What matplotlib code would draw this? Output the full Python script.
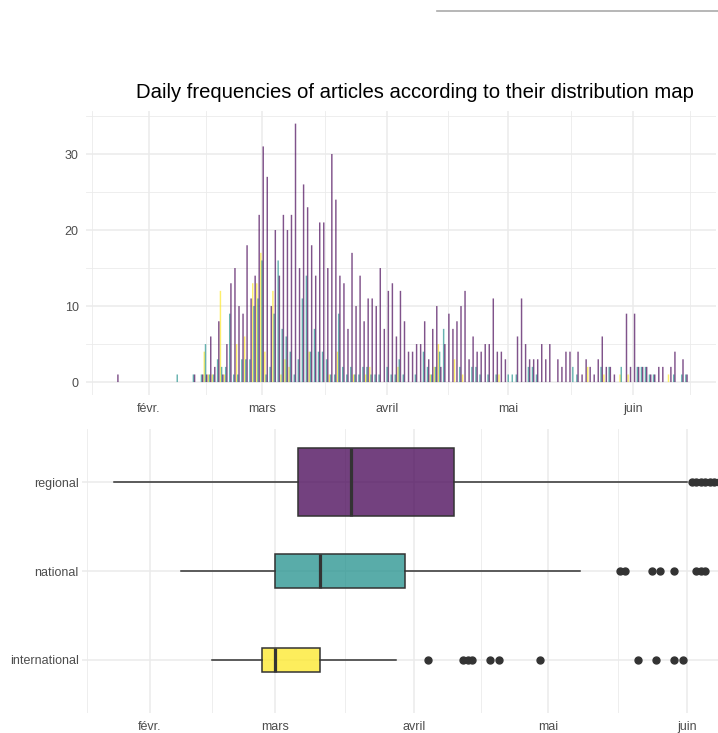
import numpy as np
import matplotlib
matplotlib.use("Agg")
import matplotlib.pyplot as plt
import matplotlib.dates as mdates
from matplotlib.colors import to_rgba
from matplotlib.lines import Line2D

plt.rcParams['font.family'] = ['Liberation Sans', 'DejaVu Sans']

# ---------------- data ----------------
first_day = "2021-01-24"   # daily counts from Jan 24 to Jun 14

regional = (
    [1, 0, 0, 0, 0, 0, 0, 0] +
    [0, 0, 0, 0, 0, 0, 0, 0, 0, 0, 0, 1, 0, 1, 1, 6, 2, 8, 1, 5, 13, 15, 10, 9, 18, 11, 14, 22] +
    [31, 27, 10, 20, 14, 22, 20, 22, 34, 15, 26, 23, 18, 14, 21, 21, 15, 30, 24, 14, 13, 7, 17, 10, 14, 8, 11, 11, 10, 15, 7] +
    [12, 13, 6, 12, 8, 4, 4, 5, 5, 8, 3, 7, 10, 2, 5, 9, 7, 8, 10, 12, 3, 6, 4, 4, 5, 5, 11, 4, 4, 3] +
    [0, 0, 6, 11, 5, 3, 3, 3, 5, 3, 5, 0, 3, 2, 4, 4, 0, 4, 1, 3, 2, 1, 3, 6, 2, 2, 1, 0, 0, 9, 2] +
    [9, 2, 2, 2, 1, 1, 2, 2, 0, 2, 4, 0, 3, 1]
)
national = (
    [0, 0, 0, 0, 0, 0, 0, 0] +
    [0, 0, 0, 0, 0, 0, 0, 1, 0, 0, 0, 1, 0, 1, 5, 1, 1, 3, 2, 2, 9, 1, 1, 3, 3, 3, 10, 11] +
    [16, 1, 2, 9, 16, 7, 6, 4, 1, 3, 11, 14, 4, 7, 4, 4, 3, 1, 1, 9, 2, 1, 2, 1, 1, 2, 2, 1, 1, 1, 0] +
    [2, 1, 1, 3, 1, 0, 0, 1, 0, 4, 2, 1, 2, 4, 7, 0, 0, 0, 2, 0, 0, 2, 2, 1, 0, 1, 0, 1, 0, 0] +
    [1, 1, 1, 0, 0, 2, 2, 1, 0, 0, 0, 0, 0, 0, 0, 0, 2, 1, 0, 0, 0, 0, 0, 2, 0, 2, 0, 0, 2, 0, 0] +
    [0, 2, 2, 2, 1, 1, 0, 0, 0, 0, 1, 0, 1, 1]
)
international = (
    [0, 0, 0, 0, 0, 0, 0, 0] +
    [0, 0, 0, 0, 0, 0, 0, 0, 0, 0, 0, 0, 0, 0, 4, 1, 1, 0, 12, 1, 0, 0, 5, 0, 6, 0, 13, 13] +
    [17, 4, 0, 12, 0, 1, 3, 2, 0, 0, 0, 0, 4, 0, 0, 0, 0, 1, 0, 4, 0, 0, 0, 1, 0, 0, 1, 2, 0, 0, 0] +
    [0, 0, 0, 2, 0, 0, 0, 0, 0, 0, 0, 1, 2, 5, 0, 0, 0, 3, 0, 1, 0, 0, 0, 0, 0, 0, 0, 0, 1, 0] +
    [0, 0, 0, 0, 0, 0, 0, 0, 0, 0, 0, 0, 0, 0, 0, 0, 0, 0, 0, 0, 2, 0, 0, 0, 1, 0, 0, 0, 1, 0, 1] +
    [0, 0, 0, 0, 0, 0, 0, 0, 0, 1, 0, 0, 0, 0]
)

categories = ["international", "national", "regional"]
colors = ["#FDE725", "#21908C", "#440154"]

month_ticks = ["2021-02-01", "2021-03-01", "2021-04-01", "2021-05-01", "2021-06-01"]
month_labels = ["févr.", "mars", "avril", "mai", "juin"]
count_ticks = [0, 10, 20, 30]

# boxplot summaries (order: international, national, regional)
box_whislo = ["2021-02-15", "2021-02-08", "2021-01-24"]
box_q1 = ["2021-02-26", "2021-03-01", "2021-03-06"]
box_med = ["2021-03-01", "2021-03-11", "2021-03-18"]
box_q3 = ["2021-03-11", "2021-03-30", "2021-04-10"]
box_whishi = ["2021-03-28", "2021-05-08", "2021-06-01"]
fliers_international = ["2021-04-04", "2021-04-12", "2021-04-13", "2021-04-14", "2021-04-18",
                        "2021-04-20", "2021-04-29", "2021-05-21", "2021-05-25", "2021-05-29",
                        "2021-05-31", "2021-06-10"]
fliers_national = ["2021-05-17", "2021-05-18", "2021-05-24", "2021-05-26", "2021-05-29",
                   "2021-06-03", "2021-06-04", "2021-06-05", "2021-06-11", "2021-06-13",
                   "2021-06-14"]
fliers_regional = ["2021-06-02", "2021-06-03", "2021-06-04", "2021-06-05", "2021-06-06",
                   "2021-06-07", "2021-06-08", "2021-06-10", "2021-06-11", "2021-06-13",
                   "2021-06-14"]

title = "Daily frequencies of articles according to their distribution map"

# ---------------- helpers ----------------
def dnum(seq):
    return mdates.date2num(np.array(seq, dtype="datetime64[D]"))

def ggplot_minor(major, extend_hi=True):
    major = list(major)
    step = major[1] - major[0]
    ext = [major[0] - step] + major + ([major[-1] + step] if extend_hi else [])
    return [(a + b) / 2 for a, b in zip(ext[:-1], ext[1:])]

W, H = 718, 733
fig = plt.figure(figsize=(W / 100, H / 100), dpi=100)

def px_axes(x0, y0, x1, y1):
    return fig.add_axes([x0 / W, 1 - y1 / H, (x1 - x0) / W, (y1 - y0) / H])

grid_col = "#EBEBEB"
text_col = "#4D4D4D"
edge_col = "#333333"

mar1 = dnum(["2021-03-01"])[0]
majors = list(dnum(month_ticks))
minors = ggplot_minor(majors)

# ---------------- top: daily bars ----------------
ax1 = px_axes(85.7, 110.7, 715.7, 395.0)
days = np.arange(np.datetime64(first_day), np.datetime64(first_day) + len(regional))
xd = mdates.date2num(days)
series = [international, national, regional]
step = 0.3
bw = 0.36
for k, (vals, col) in enumerate(zip(series, colors)):
    ax1.bar(xd + (k - 1) * step, vals, width=bw, color=col, alpha=0.68,
            linewidth=0, zorder=3, snap=False)

ax1.set_xticks(majors)
ax1.set_xticklabels(month_labels)
ax1.set_xticks(minors, minor=True)
ax1.set_yticks(count_ticks)
ax1.set_yticks(ggplot_minor(count_ticks)[1:], minor=True)
ax1.set_xlim(mar1 - 43.68, mar1 + 112.4)
ax1.set_ylim(-1.7, 35.7)
ax1.grid(which="major", color=grid_col, lw=1.1, zorder=0)
ax1.grid(which="minor", color=grid_col, lw=0.6, zorder=0)
ax1.set_axisbelow(True)
ax1.tick_params(which="both", length=0, labelsize=9, labelcolor=text_col)
ax1.tick_params(axis="x", pad=6)
ax1.tick_params(axis="y", pad=5)
for s in ax1.spines.values():
    s.set_visible(False)

# ---------------- bottom: boxplots ----------------
ax2 = px_axes(82.3, 428.6, 718.0, 713.4)
totals = np.array([sum(s) for s in series], dtype=float)
widths = 0.757 * np.sqrt(totals / totals.max())
fl = [fliers_international, fliers_national, fliers_regional]
stats = []
for i, cat in enumerate(categories):
    stats.append(dict(label=cat,
                      whislo=dnum([box_whislo[i]])[0],
                      q1=dnum([box_q1[i]])[0],
                      med=dnum([box_med[i]])[0],
                      q3=dnum([box_q3[i]])[0],
                      whishi=dnum([box_whishi[i]])[0],
                      fliers=dnum(fl[i])))
bp = ax2.bxp(stats, positions=[1, 2, 3], widths=widths, orientation="horizontal",
             patch_artist=True, showcaps=False, showfliers=True,
             boxprops=dict(edgecolor=edge_col, linewidth=1.1),
             medianprops=dict(color=edge_col, linewidth=2.3),
             whiskerprops=dict(color=edge_col, linewidth=1.1),
             flierprops=dict(marker="o", markerfacecolor=edge_col,
                             markeredgecolor=edge_col, markersize=5))
for patch, col in zip(bp["boxes"], colors):
    patch.set_facecolor(to_rgba(col, 0.75))
for art in bp["boxes"] + bp["medians"] + bp["whiskers"] + bp["fliers"]:
    art.set_zorder(3)

ax2.set_xticks(majors)
ax2.set_xticklabels(month_labels)
ax2.set_xticks(ggplot_minor(majors), minor=True)
ax2.set_yticks([1, 2, 3])
ax2.set_yticklabels(categories)
ax2.set_xlim(mar1 - 43.05, mar1 + 98.84)
ax2.set_ylim(0.4, 3.6)
ax2.grid(which="major", color=grid_col, lw=1.1, zorder=0)
ax2.grid(which="minor", axis="x", color=grid_col, lw=0.6, zorder=0)
ax2.set_axisbelow(True)
ax2.tick_params(which="both", length=0, labelsize=9, labelcolor=text_col)
ax2.tick_params(axis="x", pad=5.5)
ax2.tick_params(axis="y", pad=2.5)
for s in ax2.spines.values():
    s.set_visible(False)

# ---------------- title and top rule ----------------
fig.text(415 / W, 1 - 93 / H, title, ha="center", va="center", fontsize=14.6, color="black")
fig.add_artist(Line2D([437 / W, 1.0], [1 - 10.7 / H, 1 - 10.7 / H], color="#AAAAAA", lw=1.2))

fig.savefig("out.png", dpi=100)
